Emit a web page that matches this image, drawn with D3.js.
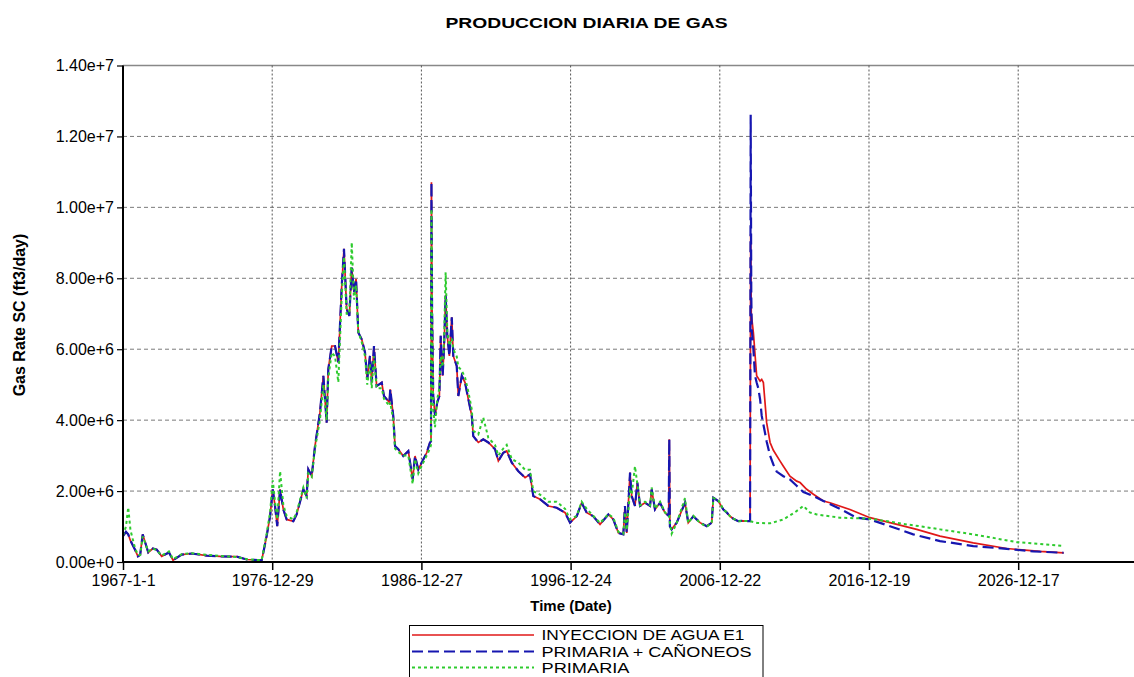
<!DOCTYPE html>
<html><head><meta charset="utf-8">
<script src="https://cdn.jsdelivr.net/npm/d3@7"></script>
<style>
body{margin:0;background:#fff}
svg{display:block;font-family:"Liberation Sans",Arial,Helvetica,sans-serif}
</style>
</head><body>
<svg id="c" width="1134" height="677"></svg>
<script>
// ---------------- DATA ----------------
const chartTitle = "PRODUCCION DIARIA DE GAS";
const yTitle = "Gas Rate SC (ft3/day)";
const xTitle = "Time (Date)";
const seriesNames = ["INYECCION DE AGUA E1", "PRIMARIA + CAÑONEOS", "PRIMARIA"];
const xTickLabels = ["1967-1-1","1976-12-29","1986-12-27","1996-12-24","2006-12-22","2016-12-19","2026-12-17"];
const yTickValues = [0,2e6,4e6,6e6,8e6,1e7,1.2e7,1.4e7];
const yTickLabels = ["0.00e+0","2.00e+6","4.00e+6","6.00e+6","8.00e+6","1.00e+7","1.20e+7","1.40e+7"];

// history (decimal year) – shared time base, values in MMscf/day
const histYear = [
 1967.00,1967.20,1967.35,1967.50,1967.80,1968.00,1968.15,1968.32,1968.69,1969.00,
 1969.26,1969.59,1970.08,1970.35,1970.93,1971.60,1972.61,1973.50,1974.62,1975.29,
 1976.29,1976.40,1976.62,1976.85,1977.03,1977.18,1977.33,1977.52,1977.74,1977.96,
 1978.41,1978.63,1979.08,1979.30,1979.41,1979.64,1979.86,1980.19,1980.42,1980.64,
 1980.75,1980.98,1981.20,1981.42,1981.65,1981.80,1981.98,1982.16,1982.32,1982.47,
 1982.61,1982.76,1982.99,1983.21,1983.36,1983.54,1983.66,1983.81,1983.99,1984.33,
 1984.48,1984.84,1984.90,1985.10,1985.22,1985.44,1985.77,1986.11,1986.40,1986.56,
 1986.78,1987.11,1987.34,1987.56,1987.63,1987.66,1987.70,1987.78,1987.90,1988.05,
 1988.19,1988.28,1988.41,1988.50,1988.61,1988.72,1988.86,1989.02,1989.12,1989.35,
 1989.46,1989.69,1989.91,1990.13,1990.36,1990.46,1990.80,1991.13,1991.47,1991.92,
 1992.14,1992.47,1992.70,1993.04,1993.48,1993.93,1994.26,1994.48,1994.93,1995.49,
 1996.05,1996.61,1996.94,1997.39,1997.72,1998.06,1998.50,1998.95,1999.51,1999.84,
 2000.18,2000.51,2000.62,2000.74,2000.96,2001.07,2001.29,2001.45,2001.63,2001.96,
 2002.30,2002.41,2002.63,2002.97,2003.30,2003.55,2003.59,2003.63,2003.75,2004.09,
 2004.64,2004.86,2005.20,2005.65,2006.10,2006.43,2006.54,2006.87,2007.21,2007.43,
 2007.66,2007.88,2008.21,2008.44,2009.00];
const histBlue = [
 0.73,0.85,0.78,0.60,0.35,0.16,0.20,0.78,0.27,0.38,
 0.35,0.16,0.27,0.05,0.21,0.24,0.18,0.16,0.15,0.07,
 0.05,0.27,0.73,1.29,2.05,1.58,1.01,2.05,1.48,1.20,
 1.15,1.34,2.05,1.86,2.61,2.42,3.27,4.21,5.25,3.93,
 5.44,6.09,6.09,5.63,7.79,8.83,7.13,6.94,8.30,7.60,
 7.98,6.47,6.28,5.91,5.15,5.81,5.06,6.09,4.96,5.06,
 4.68,4.50,4.87,4.12,3.27,3.18,2.99,3.13,2.33,2.99,
 2.61,2.89,3.08,3.37,3.40,10.71,7.22,4.68,4.12,4.50,
 4.68,6.38,5.25,6.00,7.52,6.38,5.81,6.90,5.81,5.53,
 4.68,5.25,5.06,4.59,4.12,3.55,3.37,3.46,3.37,3.18,
 2.85,3.08,3.13,2.80,2.56,2.38,2.47,1.86,1.77,1.58,
 1.53,1.39,1.11,1.29,1.67,1.39,1.29,1.06,1.34,1.20,
 0.82,0.78,1.58,0.82,2.52,1.86,1.58,2.24,1.58,1.67,
 1.58,2.05,1.48,1.67,1.39,1.30,3.46,1.00,0.92,1.11,
 1.67,1.11,1.29,1.11,1.01,1.11,1.81,1.72,1.48,1.40,
 1.29,1.22,1.15,1.16,1.15];
const histGreen = [
 0.75,1.00,1.54,0.90,0.40,0.20,0.20,0.72,0.30,0.38,
 0.33,0.18,0.30,0.08,0.22,0.25,0.20,0.17,0.14,0.08,
 0.05,0.30,0.80,1.40,2.30,1.70,1.20,2.56,1.60,1.30,
 1.20,1.40,2.10,1.80,2.50,2.40,3.20,4.00,5.00,4.00,
 5.20,5.90,5.80,5.07,7.50,8.60,7.00,7.00,9.01,7.40,
 7.80,6.50,6.20,5.80,5.00,5.60,4.90,5.80,4.90,4.90,
 4.60,4.40,4.50,4.00,3.20,3.10,3.00,3.00,2.20,2.90,
 2.50,2.80,3.00,3.20,3.30,9.95,7.00,4.30,3.80,4.60,
 4.90,5.80,5.50,6.20,8.17,6.50,6.10,6.30,6.00,5.80,
 5.50,5.40,5.20,4.80,4.30,3.70,3.60,4.07,3.50,3.30,
 3.00,3.20,3.30,2.90,2.80,2.60,2.60,2.00,1.90,1.70,
 1.70,1.50,1.20,1.30,1.70,1.50,1.30,1.10,1.35,1.25,
 0.85,0.80,1.40,0.90,2.00,1.90,2.70,2.20,1.60,1.70,
 1.60,2.10,1.50,1.70,1.40,1.30,1.30,1.10,0.80,1.10,
 1.80,1.10,1.30,1.10,1.00,1.10,1.80,1.75,1.48,1.40,
 1.29,1.22,1.15,1.16,1.15];

// forecasts
const fcRedYear = [2009.04,2009.08,2009.22,2009.44,2009.67,2009.78,2009.89,2010.00,2010.11,2010.34,
 2010.56,2011.00,2011.23,2011.67,2012.12,2012.35,2012.79,2013.24,2013.91,2014.35,
 2015.69,2017.03,2018.37,2020.16,2021.72,2023.95,2026.19,2028.42,2030.00];
const fcRed = [9.25,7.00,6.47,5.25,5.10,5.15,5.06,4.50,3.93,3.37,
 3.15,2.85,2.70,2.42,2.28,2.24,2.05,1.91,1.72,1.67,
 1.48,1.25,1.11,0.92,0.73,0.54,0.38,0.30,0.26];
const fcBlueYear = [2009.04,2009.08,2009.11,2009.22,2009.33,2009.44,2009.55,2009.67,2009.78,2010.11,
 2010.34,2010.56,2010.78,2011.23,2011.67,2012.12,2012.57,2013.24,2013.91,2015.02,
 2016.14,2017.03,2018.37,2019.93,2021.72,2023.95,2026.19,2027.97,2030.00];
const fcBlue = [12.61,7.50,6.57,6.00,5.25,5.06,4.90,4.59,4.12,3.40,
 3.00,2.75,2.55,2.42,2.33,2.15,1.97,1.86,1.72,1.50,
 1.25,1.20,1.01,0.78,0.59,0.45,0.37,0.30,0.26];
const fcGreenYear = [2009.50,2010.34,2011.23,2012.00,2012.57,2013.00,2013.46,2015.02,2017.03,2018.50,
 2019.49,2020.50,2021.72,2023.95,2026.86,2030.00];
const fcGreen = [1.10,1.09,1.20,1.40,1.58,1.40,1.34,1.25,1.22,1.13,
 1.06,1.00,0.92,0.78,0.56,0.45];

// ---------------- CHART ----------------
const svg = d3.select("#c");
const L = 123, R = 1134, T = 65.5, B = 562;

function toDate(y){
  const yr = Math.floor(y);
  const a = new Date(yr,0,1), b = new Date(yr+1,0,1);
  return new Date(a.getTime() + (y-yr)*(b-a));
}
const parse = d3.timeParse("%Y-%m-%d");
const xTickDates = xTickLabels.map(parse);
const x0 = xTickDates[0];
const x = d3.scaleTime().domain([x0, d3.timeDay.offset(x0, 24733)]).range([L, R]);
const y = d3.scaleLinear().domain([0, 1.4e7]).range([B, T]);

// grid
const g = svg.append("g");
g.selectAll("line.hg").data(yTickValues.filter(v => v>0 && v<1.4e7)).enter().append("line")
  .attr("x1", L).attr("x2", R).attr("y1", d=>y(d)).attr("y2", d=>y(d))
  .attr("stroke","#7a7a7a").attr("stroke-width",1).attr("stroke-dasharray","4,3");
g.append("line").attr("x1",L).attr("x2",R).attr("y1",y(1.4e7)).attr("y2",y(1.4e7))
  .attr("stroke","#888").attr("stroke-width",1.5);
g.selectAll("line.vg").data(xTickDates.slice(1)).enter().append("line")
  .attr("x1", d=>x(d)).attr("x2", d=>x(d)).attr("y1", T).attr("y2", B)
  .attr("stroke","#555").attr("stroke-width",1).attr("stroke-dasharray","2,2");

// series
function build(years, vals){ return years.map((yy,i)=>({d:toDate(yy), v:vals[i]*1e6})); }
const histB = build(histYear, histBlue);
const red = histB.concat(build(fcRedYear, fcRed));
const blue = histB.concat(build(fcBlueYear, fcBlue));
const green = build(histYear, histGreen).concat(build(fcGreenYear, fcGreen));
const line = d3.line().x(p=>x(p.d)).y(p=>y(p.v));

svg.append("path").datum(red).attr("d", line).attr("fill","none")
  .attr("stroke","#e01818").attr("stroke-width",1.7);
svg.append("path").datum(blue).attr("d", line).attr("fill","none")
  .attr("stroke","#1616b0").attr("stroke-width",2.2).attr("stroke-dasharray","11,5");
svg.append("path").datum(green).attr("d", line).attr("fill","none")
  .attr("stroke","#2ecb2e").attr("stroke-width",2).attr("stroke-dasharray","3,3");

// axes
const xa = svg.append("g").attr("transform",`translate(0,${B})`)
  .call(d3.axisBottom(x).tickValues(xTickDates).tickFormat((d,i)=>xTickLabels[i]).tickSize(8).tickPadding(5));
xa.select(".domain").remove();
xa.selectAll("text").attr("font-size","16px").attr("fill","#000").attr("font-family",null);
xa.selectAll("line").attr("stroke","#000").attr("stroke-width",1.5);
svg.append("line").attr("x1",L).attr("x2",R).attr("y1",B).attr("y2",B).attr("stroke","#000").attr("stroke-width",2);

const ya = svg.append("g").attr("transform",`translate(${L},0)`)
  .call(d3.axisLeft(y).tickValues(yTickValues).tickFormat((d,i)=>yTickLabels[i]).tickSize(6).tickPadding(3));
ya.select(".domain").remove();
ya.selectAll("text").attr("font-size","16px").attr("fill","#000").attr("font-family",null);
ya.selectAll("line").attr("stroke","#000").attr("stroke-width",1.2);
svg.append("line").attr("x1",L).attr("x2",L).attr("y1",T).attr("y2",B+1).attr("stroke","#000").attr("stroke-width",2);

// titles
svg.append("text").attr("x",586.5).attr("y",28).attr("text-anchor","middle")
  .attr("font-weight","bold").attr("font-size","15px")
  .attr("textLength",282).attr("lengthAdjust","spacingAndGlyphs").text(chartTitle);
svg.append("text").attr("transform","translate(25,315) rotate(-90)").attr("text-anchor","middle")
  .attr("font-weight","bold").attr("font-size","16px").text(yTitle);
svg.append("text").attr("x",571).attr("y",611).attr("text-anchor","middle")
  .attr("font-weight","bold").attr("font-size","15px").text(xTitle);

// legend
const lg = svg.append("g");
lg.append("rect").attr("x",409.5).attr("y",625.5).attr("width",353.5).attr("height",70)
  .attr("fill","#fff").attr("stroke","#000").attr("stroke-width",1);
const lstyles = [
  {c:"#e01818", w:1.7, da:null, tl:203},
  {c:"#1616b0", w:2.2, da:"11,5", tl:210},
  {c:"#2ecb2e", w:2, da:"3,3", tl:88}
];
const rowY = [635, 651.5, 667.5];
seriesNames.forEach((n,i)=>{
  lg.append("line").attr("x1",412).attr("x2",534).attr("y1",rowY[i]).attr("y2",rowY[i])
    .attr("stroke",lstyles[i].c).attr("stroke-width",lstyles[i].w)
    .attr("stroke-dasharray",lstyles[i].da);
  lg.append("text").attr("x",541.5).attr("y",rowY[i]+5).attr("font-size","14px")
    .attr("textLength",lstyles[i].tl).attr("lengthAdjust","spacingAndGlyphs").text(n);
});
</script>
</body></html>
